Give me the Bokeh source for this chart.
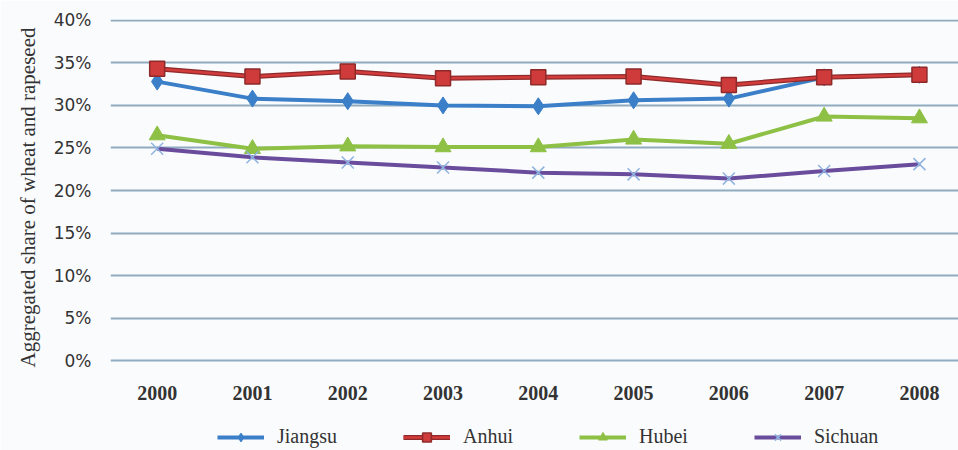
from bokeh.plotting import figure
from bokeh.models import (Range1d, FixedTicker, PrintfTickFormatter, Legend, LegendItem,
                          ColumnDataSource, Title)
from bokeh.embed import file_html
from bokeh.resources import INLINE

# Aggregated share of wheat and rapeseed (%), by province
years = ["2000", "2001", "2002", "2003", "2004", "2005", "2006", "2007", "2008"]
jiangsu = [32.8, 30.8, 30.5, 30.0, 29.9, 30.6, 30.8, 33.3, 33.6]
anhui = [34.3, 33.4, 34.0, 33.2, 33.3, 33.4, 32.4, 33.3, 33.6]
hubei = [26.5, 24.9, 25.2, 25.1, 25.1, 26.0, 25.5, 28.7, 28.5]
sichuan = [24.9, 23.9, 23.3, 22.7, 22.1, 21.9, 21.4, 22.3, 23.1]
y_ticks = [0, 5, 10, 15, 20, 25, 30, 35, 40]

x = [int(y) for y in years]

BG = "#fafbfd"
SERIF = "Liberation Serif"

# The frame runs down to the bottom edge so the legend row can sit inside it;
# the year axis is pinned at 0 %.
p = figure(width=958, height=450, output_backend="svg", toolbar_location=None,
           x_range=Range1d(1999.51, 2008.41), y_range=Range1d(-10.56, 40.1),
           min_border_left=110, min_border_right=0, min_border_top=19, min_border_bottom=0,
           background_fill_color=BG, border_fill_color=BG, outline_line_color=None)

# axes
p.xaxis.fixed_location = 0
p.xaxis.ticker = FixedTicker(ticks=x)
p.xaxis.major_label_overrides = {v: s for v, s in zip(x, years)}
p.yaxis.ticker = FixedTicker(ticks=y_ticks)
p.yaxis.formatter = PrintfTickFormatter(format="%d%%")
for ax in (p.xaxis[0], p.yaxis[0]):
    ax.axis_line_color = None
    ax.major_tick_line_color = None
    ax.minor_tick_line_color = None
    ax.major_tick_in = 0
    ax.major_tick_out = 0
p.xaxis.major_label_standoff = 25
p.xaxis.major_label_text_font = SERIF
p.xaxis.major_label_text_font_style = "bold"
p.xaxis.major_label_text_font_size = "20px"
p.xaxis.major_label_text_color = "#333333"
p.yaxis.major_label_standoff = 19
p.yaxis.major_label_text_font = "DejaVu Sans"
p.yaxis.major_label_text_font_size = "17px"
p.yaxis.major_label_text_color = "#333333"

# vertical title, aligned with the 0-40 % band rather than the whole frame
p.add_layout(Title(text="Aggregated share of wheat and rapeseed", align="right", offset=8,
                   standoff=22, text_font=SERIF, text_font_style="normal",
                   text_font_size="21px", text_color="#333333"), "left")

p.xgrid.grid_line_color = None
p.ygrid.grid_line_color = "#8fabbf"
p.ygrid.grid_line_width = 2

src = ColumnDataSource(dict(x=x, jiangsu=jiangsu, anhui=anhui, hubei=hubei, sichuan=sichuan))

# Jiangsu
j_l = p.line("x", "jiangsu", source=src, line_color="#3a7fc8", line_width=4)
j_m = p.scatter("x", "jiangsu", source=src, marker="diamond", size=17,
                fill_color="#3a7fc8", line_color="#3a7fc8")

# Anhui
a_u = p.line("x", "anhui", source=src, line_color="#8e2a2a", line_width=5)
a_l = p.line("x", "anhui", source=src, line_color="#d23c3c", line_width=2.5)
a_m = p.scatter("x", "anhui", source=src, marker="square", size=15,
                fill_color="#cf3a3a", line_color="#8e2a2a", line_width=1.5)

# Hubei
h_l = p.line("x", "hubei", source=src, line_color="#8dc044", line_width=4)
h_m = p.scatter("x", "hubei", source=src, marker="triangle", size=16,
                fill_color="#8dc044", line_color="#8dc044")

# Sichuan
s_l = p.line("x", "sichuan", source=src, line_color="#6a4c9c", line_width=4)
s_m = p.scatter("x", "sichuan", source=src, marker="x", size=17,
                line_color="#8fb3e0", line_width=1.5)

legend = Legend(items=[
    LegendItem(label="Jiangsu", renderers=[j_l, j_m]),
    LegendItem(label="Anhui", renderers=[a_u, a_l, a_m]),
    LegendItem(label="Hubei", renderers=[h_l, h_m]),
    LegendItem(label="Sichuan", renderers=[s_l, s_m]),
], orientation="horizontal", location=(107, 2), padding=0, margin=0, spacing=66,
    glyph_width=47, glyph_height=22, label_height=22, label_standoff=13,
    label_text_font=SERIF, label_text_font_size="20px", label_text_color="#333333",
    border_line_color=None, background_fill_alpha=0)
p.add_layout(legend, "center")

open("out.html", "w").write(file_html(p, INLINE))
